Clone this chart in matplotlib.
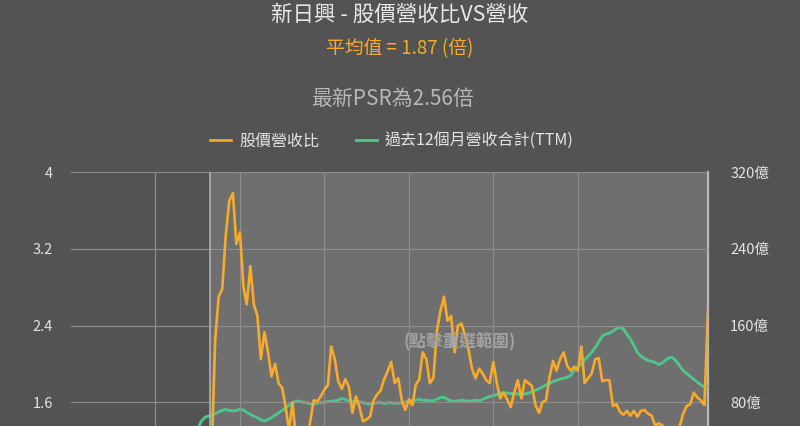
import matplotlib
matplotlib.use('Agg')
import matplotlib.pyplot as plt
import matplotlib.ticker as mticker
import pandas as pd

plt.rcParams['font.family'] = ['Noto Sans CJK TC', 'DejaVu Sans']

# monthly data
psr_dates = pd.date_range('2012-05-01', periods=142, freq='MS')
psr = [1.05, 2.25, 2.70, 2.78, 3.35, 3.70, 3.78, 3.25, 3.37, 2.80,
       2.62, 3.02, 2.62, 2.50, 2.05, 2.33, 2.12, 1.87, 2.00, 1.80,
       1.75, 1.55, 1.30, 1.60, 1.20, 1.05, 1.00, 1.15, 1.40, 1.62,
       1.61, 1.66, 1.73, 1.78, 2.18, 2.05, 1.82, 1.74, 1.84, 1.76,
       1.49, 1.66, 1.55, 1.40, 1.42, 1.45, 1.62, 1.68, 1.72, 1.84,
       1.92, 2.02, 1.80, 1.85, 1.62, 1.52, 1.63, 1.57, 1.78, 1.84,
       2.12, 2.05, 1.80, 1.85, 2.35, 2.55, 2.70, 2.45, 2.50, 2.12,
       2.40, 2.42, 2.30, 2.15, 1.95, 1.85, 1.95, 1.90, 1.83, 1.80,
       2.02, 1.80, 1.64, 1.70, 1.63, 1.55, 1.70, 1.83, 1.64, 1.83,
       1.80, 1.77, 1.57, 1.49, 1.60, 1.62, 1.86, 2.03, 1.93, 2.05,
       2.12, 1.98, 1.93, 1.97, 1.93, 2.18, 1.80, 1.85, 1.90, 2.05,
       2.06, 1.82, 1.83, 1.83, 1.56, 1.58, 1.50, 1.47, 1.51, 1.46,
       1.51, 1.45, 1.51, 1.52, 1.48, 1.46, 1.36, 1.38, 1.36, 1.30,
       1.25, 1.28, 1.22, 1.35, 1.48, 1.56, 1.58, 1.70, 1.65, 1.62,
       1.57, 2.56]

ttm_dates = pd.date_range('2012-01-01', periods=146, freq='MS')
ttm = [52, 60, 64, 65.5, 66.5, 68, 70, 71.5, 72.5, 71.5,
       71, 71.5, 72.5, 72, 69.5, 67.5, 65.5, 64, 61.5, 60.5,
       62, 64, 66.5, 69, 71.5, 74, 77, 79.5, 81, 81,
       80, 79.5, 78.5, 78.5, 79, 79.5, 80, 80.5, 81, 81.5,
       82, 84, 83, 81.5, 81, 80, 80.5, 79.5, 78.5, 78,
       79, 79.5, 80, 78.5, 79.5, 79.5, 79, 79, 79.5, 80,
       81, 82, 82.5, 83, 82, 82, 81.5, 81.5, 83, 85,
       85, 83, 81.5, 81, 81.5, 82, 81.5, 81, 81.5, 82,
       81.5, 83, 84.5, 86, 87, 88, 89.5, 90, 89.5, 89,
       89, 88.5, 88, 88.5, 89.5, 91, 92.5, 94, 96, 98,
       99.5, 101.5, 103, 104, 105, 106, 108, 113, 117, 120,
       124, 128, 132, 137, 143, 149, 151, 152, 154, 157,
       158, 156, 151, 146, 139, 132, 128, 125.5, 123.5, 122.5,
       121.5, 119.5, 121, 124, 126.5, 126.5, 123, 118, 113, 110,
       107, 104, 101, 98, 96, 96.5]

left_ticks = [1.6, 2.4, 3.2, 4]
right_ticks = [80, 160, 240, 320]
band_start = pd.Timestamp('2012-04-15')

BG = '#535353'
BAND = '#6f6f6f'
ORANGE = '#f8ab2b'
GREEN = '#4fc48c'

fig = plt.figure(figsize=(8, 4.26), dpi=100, facecolor=BG)
ax = fig.add_axes([0.08875, -0.1244, 0.79625, 0.7206])
ax2 = ax.twinx()

# green axis sits underneath and carries the background + band
ax2.set_facecolor(BG)
ax2.axvspan(band_start, psr_dates[-1], color=BAND, zorder=0, lw=0)
ax.set_zorder(ax2.get_zorder() + 1)
ax.patch.set_visible(False)
ax.axvline(band_start, color='#b0b0b0', lw=1.2, zorder=1)

ax.set_xlim(pd.Timestamp('2009-01-01'), psr_dates[-1])
ax.set_xticks(pd.date_range('2011-01-01', '2021-01-01', freq='2YS'))
ax.set_xticklabels([])
ax.grid(True, color='#8e8e8e', lw=0.8)
ax.set_axisbelow(True)

ax.set_ylim(0.8, 4)
ax.set_yticks(left_ticks)
ax.yaxis.set_major_formatter(mticker.FuncFormatter(lambda v, p: f'{v:g}'))
ax2.set_ylim(0, 320)
ax2.set_yticks(right_ticks)
ax2.yaxis.set_major_formatter(mticker.FuncFormatter(lambda v, p: f'{v:g}億'))

for a in (ax, ax2):
    a.tick_params(length=0, labelsize=10.5, labelcolor='#e4e4e4')
    for s in a.spines.values():
        s.set_visible(False)
ax.tick_params(axis='y', pad=13)
ax2.tick_params(axis='y', pad=16)
ax2.spines['right'].set_visible(True)
ax2.spines['right'].set_color('#b8b8b8')
ax2.spines['right'].set_linewidth(1.6)

l1, = ax.plot(psr_dates, psr, color=ORANGE, lw=1.9, zorder=4)
l2, = ax2.plot(ttm_dates, ttm, color=GREEN, lw=2.1, zorder=3)

ax.text(0.611, 0.4495, '(點擊重選範圍)', transform=ax.transAxes, ha='center', va='center',
        fontsize=12, color='#a2a2a2', fontweight='bold', zorder=5)

fig.text(0.5, 1 - 15 / 426, '新日興 - 股價營收比VS營收', ha='center', va='center',
         fontsize=15.5, color='#e8e8e8')
fig.text(0.5, 1 - 49 / 426, '平均值 = 1.87 (倍)', ha='center', va='center',
         fontsize=13.5, color=ORANGE)
fig.text(0.49, 1 - 99 / 426, '最新PSR為2.56倍', ha='center', va='center',
         fontsize=15, color='#b8b8b8')

fig.legend([l1, l2], ['股價營收比', '過去12個月營收合計(TTM)'], loc='center',
           bbox_to_anchor=(0.49, 1 - 141 / 426), ncol=2, frameon=False,
           fontsize=11.5, labelcolor='#e4e4e4', handlelength=1.3, handletextpad=0.5,
           columnspacing=2.3)

fig.savefig('out.png', dpi=100, facecolor=BG)
